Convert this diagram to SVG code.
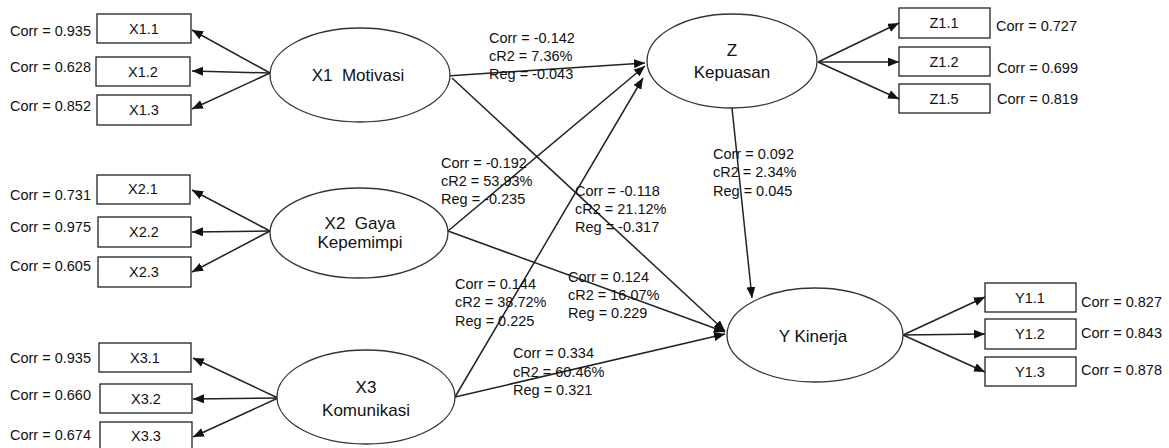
<svg xmlns="http://www.w3.org/2000/svg" width="1169" height="448" viewBox="0 0 1169 448">
<style>
text{font-family:"Liberation Sans",Arial,sans-serif;fill:#111}
.s{font-size:14.5px}
.n{font-size:17px}
.c{text-anchor:middle}
.box{fill:#fff;stroke:#222;stroke-width:1.3}
.ell{fill:#fff;stroke:#333;stroke-width:1.3}
.ln{stroke:#222;stroke-width:1.5;fill:none;marker-end:url(#ah)}
</style>
<defs>
<marker id="ah" markerWidth="12" markerHeight="10" refX="11" refY="4.5" orient="auto" markerUnits="userSpaceOnUse"><path d="M0,0 L11,4.5 L0,9 z" fill="#111"/></marker>
</defs>
<rect width="1169" height="448" fill="#fff"/>
<g id="connectors">
<line class="ln" x1="270" y1="73" x2="192" y2="30"/>
<line class="ln" x1="270" y1="73" x2="192" y2="71"/>
<line class="ln" x1="270" y1="73" x2="192" y2="109"/>
<line class="ln" x1="270" y1="231" x2="192" y2="190"/>
<line class="ln" x1="270" y1="231" x2="192" y2="232"/>
<line class="ln" x1="270" y1="231" x2="192" y2="272"/>
<line class="ln" x1="278" y1="398" x2="193" y2="358"/>
<line class="ln" x1="278" y1="398" x2="193" y2="399"/>
<line class="ln" x1="278" y1="398" x2="193" y2="437"/>
<line class="ln" x1="818" y1="62" x2="899" y2="23"/>
<line class="ln" x1="818" y1="62" x2="899" y2="62"/>
<line class="ln" x1="818" y1="62" x2="899" y2="99"/>
<line class="ln" x1="903" y1="335" x2="985" y2="297"/>
<line class="ln" x1="903" y1="335" x2="985" y2="334"/>
<line class="ln" x1="903" y1="335" x2="985" y2="372"/>
<line class="ln" x1="447" y1="76" x2="645" y2="63"/>
<line class="ln" x1="448" y1="231" x2="645" y2="66"/>
<line class="ln" x1="455" y1="397" x2="643" y2="78"/>
<line class="ln" x1="452" y1="78" x2="725" y2="331"/>
<line class="ln" x1="448" y1="231" x2="725" y2="332"/>
<line class="ln" x1="455" y1="397" x2="725" y2="334"/>
<line class="ln" x1="732" y1="108" x2="752" y2="298"/>
</g>
<g id="edge-labels" class="s">
<text x="489" y="43">Corr = -0.142</text>
<text x="489" y="61">cR2 = 7.36%</text>
<text x="489" y="79">Reg = -0.043</text>
<text x="441" y="168">Corr = -0.192</text>
<text x="441" y="186">cR2 = 53.93%</text>
<text x="441" y="204">Reg = -0.235</text>
<text x="575" y="196">Corr = -0.118</text>
<text x="575" y="214">cR2 = 21.12%</text>
<text x="575" y="232">Reg = -0.317</text>
<text x="568" y="282">Corr = 0.124</text>
<text x="568" y="300">cR2 = 16.07%</text>
<text x="568" y="318">Reg = 0.229</text>
<text x="455" y="289">Corr = 0.144</text>
<text x="455" y="307">cR2 = 38.72%</text>
<text x="455" y="326">Reg = 0.225</text>
<text x="513" y="358">Corr = 0.334</text>
<text x="513" y="377">cR2 = 60.46%</text>
<text x="513" y="395">Reg = 0.321</text>
<text x="713" y="159">Corr = 0.092</text>
<text x="713" y="177">cR2 = 2.34%</text>
<text x="713" y="196">Reg = 0.045</text>
</g>
<g id="X1">
<ellipse class="ell" cx="360" cy="75" rx="90" ry="47"/>
<text class="n c" x="358" y="81" xml:space="preserve">X1  Motivasi</text>
</g>
<g id="X2">
<ellipse class="ell" cx="359" cy="233" rx="89" ry="45"/>
<text class="n c" x="360" y="229" xml:space="preserve">X2  Gaya</text>
<text class="n c" x="360" y="248">Kepemimpi</text>
</g>
<g id="X3">
<ellipse class="ell" cx="366" cy="397" rx="89" ry="47"/>
<text class="n c" x="366" y="393">X3</text>
<text class="n c" x="366" y="416">Komunikasi</text>
</g>
<g id="Z">
<ellipse class="ell" cx="732" cy="61" rx="85" ry="47"/>
<text class="n c" x="732" y="56">Z</text>
<text class="n c" x="732" y="78">Kepuasan</text>
</g>
<g id="Y">
<ellipse class="ell" cx="815" cy="335" rx="88" ry="47"/>
<text class="n c" x="813" y="342">Y Kinerja</text>
</g>
<g id="X1.1"><rect class="box" x="97" y="14" width="94" height="29"/><text class="s c" x="144" y="34">X1.1</text><text class="s" x="10" y="36">Corr = 0.935</text></g>
<g id="X1.2"><rect class="box" x="96" y="57" width="94" height="29"/><text class="s c" x="143" y="77">X1.2</text><text class="s" x="10" y="72">Corr = 0.628</text></g>
<g id="X1.3"><rect class="box" x="97" y="95" width="94" height="30"/><text class="s c" x="144" y="115">X1.3</text><text class="s" x="10" y="111">Corr = 0.852</text></g>
<g id="X2.1"><rect class="box" x="97" y="175" width="93" height="29"/><text class="s c" x="143" y="194">X2.1</text><text class="s" x="10" y="200">Corr = 0.731</text></g>
<g id="X2.2"><rect class="box" x="98" y="217" width="93" height="30"/><text class="s c" x="144" y="237">X2.2</text><text class="s" x="10" y="232">Corr = 0.975</text></g>
<g id="X2.3"><rect class="box" x="98" y="257" width="93" height="30"/><text class="s c" x="144" y="277">X2.3</text><text class="s" x="10" y="271">Corr = 0.605</text></g>
<g id="X3.1"><rect class="box" x="99" y="343" width="92" height="29"/><text class="s c" x="145" y="363">X3.1</text><text class="s" x="10" y="363">Corr = 0.935</text></g>
<g id="X3.2"><rect class="box" x="100" y="384" width="92" height="29"/><text class="s c" x="146" y="404">X3.2</text><text class="s" x="10" y="400">Corr = 0.660</text></g>
<g id="X3.3"><rect class="box" x="100" y="422" width="92" height="30"/><text class="s c" x="146" y="441">X3.3</text><text class="s" x="10" y="440">Corr = 0.674</text></g>
<g id="Z1.1"><rect class="box" x="899" y="8" width="91" height="30"/><text class="s c" x="944" y="28">Z1.1</text><text class="s" x="996" y="31">Corr = 0.727</text></g>
<g id="Z1.2"><rect class="box" x="899" y="47" width="91" height="29"/><text class="s c" x="944" y="67">Z1.2</text><text class="s" x="997" y="73">Corr = 0.699</text></g>
<g id="Z1.5"><rect class="box" x="899" y="84" width="91" height="29"/><text class="s c" x="944" y="104">Z1.5</text><text class="s" x="997" y="104">Corr = 0.819</text></g>
<g id="Y1.1"><rect class="box" x="985" y="283" width="91" height="29"/><text class="s c" x="1030" y="303">Y1.1</text><text class="s" x="1081" y="307">Corr = 0.827</text></g>
<g id="Y1.2"><rect class="box" x="985" y="319" width="91" height="30"/><text class="s c" x="1030" y="339">Y1.2</text><text class="s" x="1081" y="338">Corr = 0.843</text></g>
<g id="Y1.3"><rect class="box" x="985" y="357" width="91" height="29"/><text class="s c" x="1030" y="377">Y1.3</text><text class="s" x="1081" y="375">Corr = 0.878</text></g>
</svg>
